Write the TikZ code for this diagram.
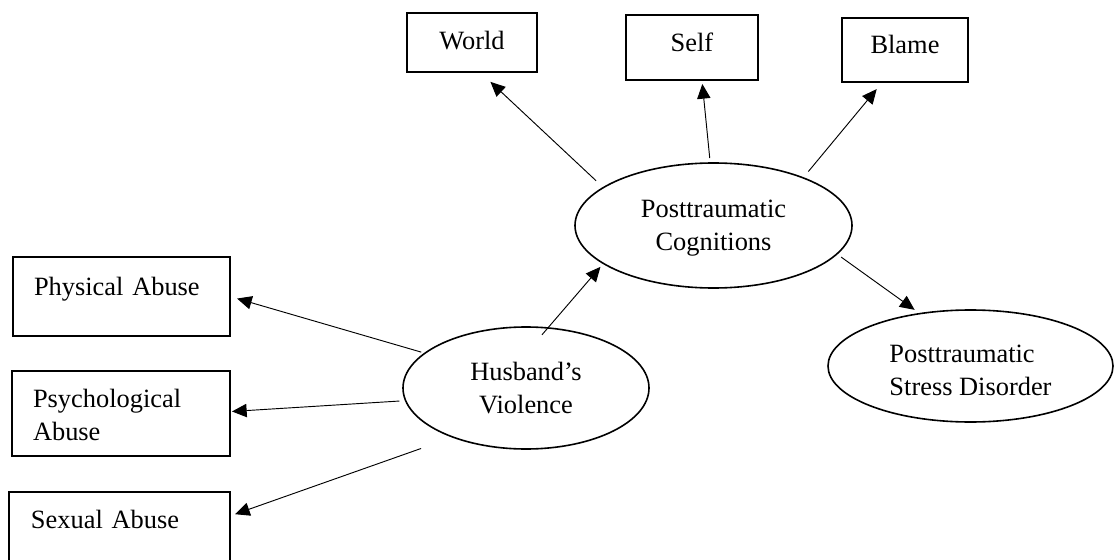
\documentclass[tikz,border=0pt]{standalone}
\usepackage{fontspec}
\setmainfont{Liberation Serif}
\usetikzlibrary{arrows.meta,shapes.geometric}
\begin{document}
\begin{tikzpicture}[x=0.75pt,y=-0.75pt,
  every node/.style={font=\fontsize{19.8pt}{24.75pt}\selectfont, outer sep=0pt, inner sep=0pt},
  box/.style={draw, line width=1.3pt, rectangle},
  oval/.style={draw, line width=1.2pt, ellipse},
  arr/.style={line width=0.7pt, -{Triangle[length=11pt,width=10pt]}},
]
\useasboundingbox (0,0) rectangle (1115,560);
\clip (0,0) rectangle (1115,560);

% top boxes
\node[box, minimum width=97.5pt, minimum height=44.25pt, text height=13.5pt, text depth=2.25pt] (world) at (472,42.5) {World};
\node[box, minimum width=99pt, minimum height=48.75pt, text height=13.5pt, text depth=6.75pt] (self) at (692,47.5) {Self};
\node[box, minimum width=94.5pt, minimum height=48pt, text height=13.5pt, text depth=7.5pt] (blame) at (905,50) {Blame};

% left boxes
\node[box, minimum width=162.75pt, minimum height=59.25pt, inner xsep=15.75pt, text width=131.25pt, align=left, text height=13.5pt, text depth=15.75pt] (phys) at (121.5,296.5) {Physical Abuse};
\node[box, minimum width=163.5pt, minimum height=63.75pt, inner xsep=15.75pt, text width=132pt, align=left, text height=13.5pt, text depth=23.25pt] (psych) at (121,413.5) {Psychological\\Abuse};
\node[box, minimum width=165.75pt, minimum height=59.25pt, inner xsep=16.5pt, text width=132.75pt, align=left, text height=13.5pt, text depth=18.75pt] (sex) at (119.5,531.5) {Sexual Abuse};

% ellipses
\node[oval, minimum width=207.75pt, minimum height=93.75pt, align=center, text height=38.25pt, text depth=1.5pt] (pc) at (713.5,225.5) {Posttraumatic\\Cognitions};
\node[oval, minimum width=184.5pt, minimum height=91.5pt, align=center, text height=38.25pt, text depth=0.75pt] (hv) at (526,388) {Husband’s\\Violence};
\node[oval, minimum width=213.75pt, minimum height=84pt, align=left, text height=43.5pt, text depth=0pt] (ptsd) at (970.5,366) {Posttraumatic\\Stress Disorder};

% connectors
\draw[arr, shorten <=7.5pt, shorten >=10.8pt] (pc.161.95) -- (world.-75.55);
\draw[arr, shorten <=3.75pt, shorten >=3pt] (pc.93.66) -- (self.-73.54);
\draw[arr, shorten <=6.15pt, shorten >=6.9pt] (pc.28.65) -- (blame.-125.83);
\draw[arr, shorten <=4pt, shorten >=4.9pt] (pc.-13.57) -- (ptsd.134.4);
\draw[arr, shorten <=-6.8pt, shorten >=3.4pt] (hv.70.03) -- (pc.-161.66);
\draw[arr, shorten <=2.9pt, shorten >=5.5pt] (hv.161.66) -- (phys.-0.78);
\draw[arr, shorten <=4.7pt, shorten >=1.5pt] (hv.-174.51) -- (psych.1.79);
\draw[arr, shorten <=25.5pt, shorten >=4pt] (hv.-146.61) -- (sex.8.61);
\end{tikzpicture}
\end{document}
